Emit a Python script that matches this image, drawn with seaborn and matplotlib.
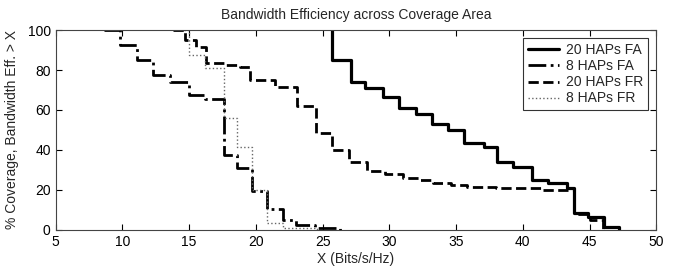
import matplotlib
matplotlib.use("Agg")
import matplotlib.pyplot as plt
import seaborn as sns

# step points (x where the curve drops, level after the drop)
fa20_x = [25.7, 25.7, 27.1, 28.2, 29.5, 30.7, 32.0, 33.2, 34.4, 35.6, 37.1, 38.1, 39.3, 40.7, 41.9, 43.3, 43.8, 44.9, 46.1, 47.2]
fa20_y = [100, 85, 74.2, 70.8, 66.7, 60.8, 58, 53, 49.8, 43.5, 41.7, 34.2, 31.7, 25, 23.7, 20.8, 8.3, 6.7, 1.7, 0]

fa8_x = [8.6, 9.8, 11.1, 12.3, 13.6, 15.0, 16.2, 17.6, 18.6, 19.7, 20.8, 22.0, 23.0, 24.4, 26.3]
fa8_y = [100, 92.5, 85, 77.5, 74.2, 67.5, 65.5, 37.5, 30.8, 19.6, 10.5, 5, 2.5, 1.2, 0]

fr20_x = [13.8, 14.7, 15.5, 16.3, 17.6, 18.8, 19.6, 21.4, 23.1, 24.5, 25.7, 27.0, 28.3, 29.7, 31.0, 32.2, 33.3, 34.6, 35.8, 38.0, 41.5, 43.8, 45.0, 46.0]
fr20_y = [100, 95, 91.5, 83.3, 82.5, 81.5, 75, 71.5, 62, 48.3, 40, 33.8, 29.5, 27.8, 26.2, 25, 23.3, 22.5, 21.3, 20.8, 20.2, 8, 5, 0]

fr8_x = [14.6, 15.0, 16.2, 17.6, 18.6, 19.7, 20.8, 22.0, 24.6]
fr8_y = [100, 87.5, 80.8, 55.8, 41.7, 20, 3.5, 1, 0]

sns.set_style("ticks")
plt.rcParams["font.family"] = ["Liberation Sans", "DejaVu Sans"]

fig = plt.figure(figsize=(6.78, 2.68), dpi=100)
ax = fig.add_axes([0.082, 0.142, 0.886, 0.746])

common = dict(estimator=None, sort=False, drawstyle="steps-post", ax=ax)
sns.lineplot(x=fa20_x, y=fa20_y, color="black", linestyle="-", linewidth=2.3, label="20 HAPs FA", **common)
sns.lineplot(x=fa8_x, y=fa8_y, color="black", linestyle="-.", linewidth=2.0, label="8 HAPs FA", **common)
sns.lineplot(x=fr20_x, y=fr20_y, color="black", linestyle="--", linewidth=2.0, label="20 HAPs FR", **common)
sns.lineplot(x=fr8_x, y=fr8_y, color="#666666", linestyle=":", linewidth=1.0, label="8 HAPs FR", **common)

ax.set_xlim(5, 50)
ax.set_ylim(0, 100)
ax.set_xticks(range(5, 51, 5))
ax.set_yticks(range(0, 101, 20))
ax.tick_params(direction="in", top=True, right=True, length=4, width=0.8, labelsize=10, colors="black")
for s in ax.spines.values():
    s.set_color("#444444")
    s.set_linewidth(0.8)

ax.set_title("Bandwidth Efficiency across Coverage Area", fontsize=10, pad=8)
ax.set_xlabel("X (Bits/s/Hz)", fontsize=10, labelpad=2)
ax.set_ylabel("% Coverage, Bandwidth Eff. > X", fontsize=10, labelpad=6)

leg = ax.legend(loc="upper right", fontsize=10, frameon=True, fancybox=False,
                edgecolor="black", handlelength=2.2, borderaxespad=0.6,
                labelspacing=0.15, borderpad=0.35, handletextpad=0.5)
leg.get_frame().set_linewidth(0.8)

fig.savefig("out.png", dpi=100)
